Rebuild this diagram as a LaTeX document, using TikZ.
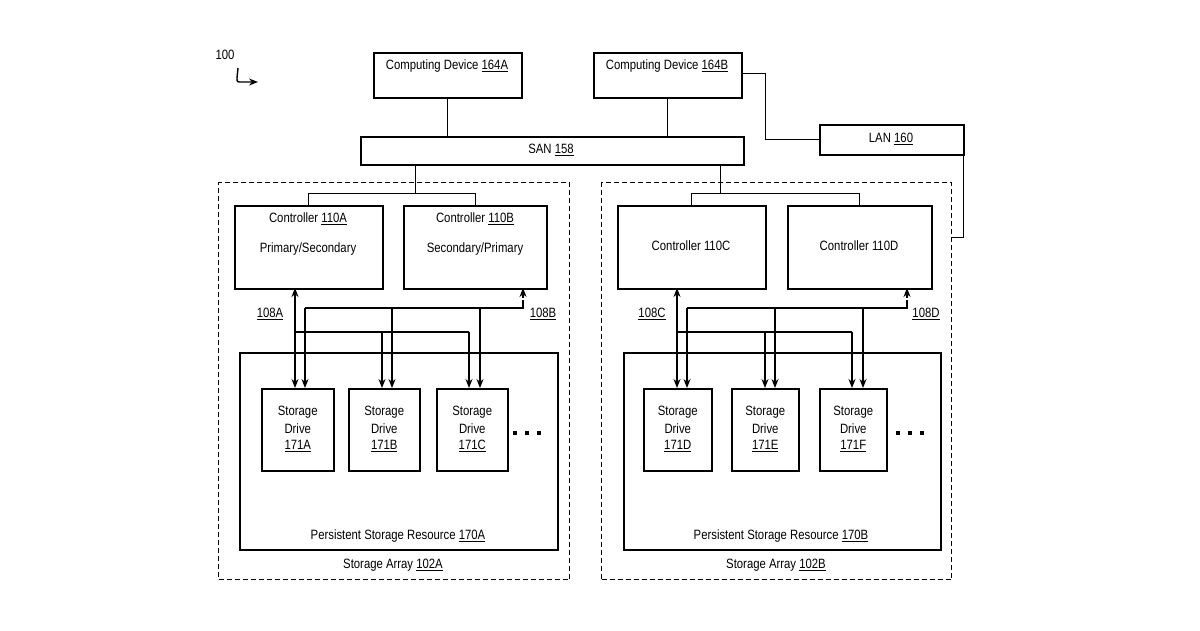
\documentclass[tikz,border=0pt]{standalone}
\usepackage{fontspec}
\setmainfont[FakeStretch=0.84]{Liberation Sans}
\usetikzlibrary{arrows.meta}
\begin{document}
\begin{tikzpicture}[x=1pt,y=-1pt,
  box/.style={draw,line width=1.5pt,anchor=north west,inner sep=0pt},
  dbox/.style={draw,line width=1.4pt,dash pattern=on 5pt off 3pt,anchor=north west,inner sep=0pt},
  t/.style={font=\fontsize{13.5}{15}\selectfont,inner sep=0pt,align=center},
  ln/.style={line width=1.4pt},
  thin/.style={line width=1pt},
  ar/.style={line width=1.4pt,-{Stealth[length=9pt,width=7pt]}},
  ar2/.style={line width=1.4pt,{Stealth[length=9pt,width=7pt]}-{Stealth[length=9pt,width=7pt]}}]
\useasboundingbox (0,0) rectangle (1200,630);
\fill[white] (0,0) rectangle (1200,630);
% top
\node[box,minimum width=148pt,minimum height=45pt] (ca) at (373,52) {};
\node[t] at (447,66) {Computing Device \underline{164A}};
\node[box,minimum width=148pt,minimum height=45pt] (cb) at (593,52) {};
\node[t] at (667,66) {Computing Device \underline{164B}};
\node[box,minimum width=383pt,minimum height=28pt] (san) at (360,136) {};
\node[t] at (551,150) {SAN \underline{158}};
\node[box,minimum width=144pt,minimum height=30pt] (lan) at (819,124) {};
\node[t] at (891,139) {LAN \underline{160}};
\node[t] at (225,55) {100};
\coordinate (s1) at (238,68); \coordinate (s2) at (258,82);
\draw[line width=1.4pt,-{Stealth[length=9pt,width=7pt]}] (s1) -- (237,78) .. controls (237,82) .. (242,82) -- (s2);
\draw[thin] (ca.south) -- (ca.south |- san.north);
\draw[thin] (cb.south) -- (cb.south |- san.north);
\coordinate (lb) at (765,73);
\draw[thin] (cb.east |- lb) -- (lb) |- (lan.west);
% arrays
\node[dbox,minimum width=351pt,minimum height=397pt] (arA) at (218,182) {};
\node[dbox,minimum width=350pt,minimum height=397pt] (arB) at (601,182) {};
\node[t] at (393,565) {Storage Array \underline{102A}};
\node[t] at (776,565) {Storage Array \underline{102B}};
\coordinate (lc) at (963,237);
\draw[thin] (lan.south -| lc) -- (lc) -- (lc -| arB.east);
% controllers
\node[box,minimum width=148pt,minimum height=83pt] (c1) at (234,205) {};
\node[t] at (308,219) {Controller \underline{110A}};
\node[t] at (308,249) {Primary/Secondary};
\node[box,minimum width=143pt,minimum height=83pt] (c2) at (403,205) {};
\node[t] at (475,219) {Controller \underline{110B}};
\node[t] at (475,249) {Secondary/Primary};
\node[box,minimum width=148pt,minimum height=83pt] (c3) at (617,205) {};
\node[t] at (691,246) {Controller 110C};
\node[box,minimum width=144pt,minimum height=83pt] (c4) at (787,205) {};
\node[t] at (859,246) {Controller 110D};
% SAN to controllers
\coordinate (ja) at (415,193); \coordinate (jb) at (720,193);
\draw[thin] (san.south -| ja) -- (ja);
\draw[thin] (c1.north) -- (c1.north |- ja) -- (c2.north |- ja) -- (c2.north);
\draw[thin] (san.south -| jb) -- (jb);
\draw[thin] (c3.north) -- (c3.north |- jb) -- (c4.north |- jb) -- (c4.north);
% persistent
\node[box,minimum width=318pt,minimum height=197pt] (pA) at (239,352) {};
\node[t] at (398,536) {Persistent Storage Resource \underline{170A}};
\node[box,minimum width=317pt,minimum height=197pt] (pB) at (623,352) {};
\node[t] at (781,536) {Persistent Storage Resource \underline{170B}};
% drives
\foreach \n/\x/\w in {d1/261/72,d2/348/71,d3/436/71,d4/643/68,d5/731/67,d6/819/67}{
  \node[box,minimum width=\w pt,minimum height=82pt] (\n) at (\x,388) {};
}
\foreach \n/\l in {d1/171A,d2/171B,d3/171C,d4/171D,d5/171E,d6/171F}{
  \path (\n.north) ++(0,24) node[t] {Storage} ++(0,17) node[t] {Drive} ++(0,17) node[t] {\underline{\l}};
}
\foreach \x in {515,527,539,898,910,922}{
  \fill (\x-2,431) rectangle (\x+2,435);
}
% bus A
\draw[ar2] (295,288) -- (295,388);
\draw[ln] (295,332) -- (469,332);
\draw[ar] (382,332) -- (382,388);
\draw[ar] (469,332) -- (469,388);
\draw[ln] (523,300) -- (523,308) -- (305,308);
\draw[ar] (523,298) -- (523,288);
\draw[ar] (305,308) -- (305,388);
\draw[ar] (392,308) -- (392,388);
\draw[ar] (480,308) -- (480,388);
\node[t] at (270,314) {\underline{108A}};
\node[t] at (543,314) {\underline{108B}};
% bus B
\draw[ar2] (677,288) -- (677,388);
\draw[ln] (677,332) -- (852,332);
\draw[ar] (765,332) -- (765,388);
\draw[ar] (852,332) -- (852,388);
\draw[ln] (907,300) -- (907,308) -- (687,308);
\draw[ar] (907,298) -- (907,288);
\draw[ar] (687,308) -- (687,388);
\draw[ar] (775,308) -- (775,388);
\draw[ar] (863,308) -- (863,388);
\node[t] at (652,314) {\underline{108C}};
\node[t] at (926,314) {\underline{108D}};
\end{tikzpicture}
\end{document}
